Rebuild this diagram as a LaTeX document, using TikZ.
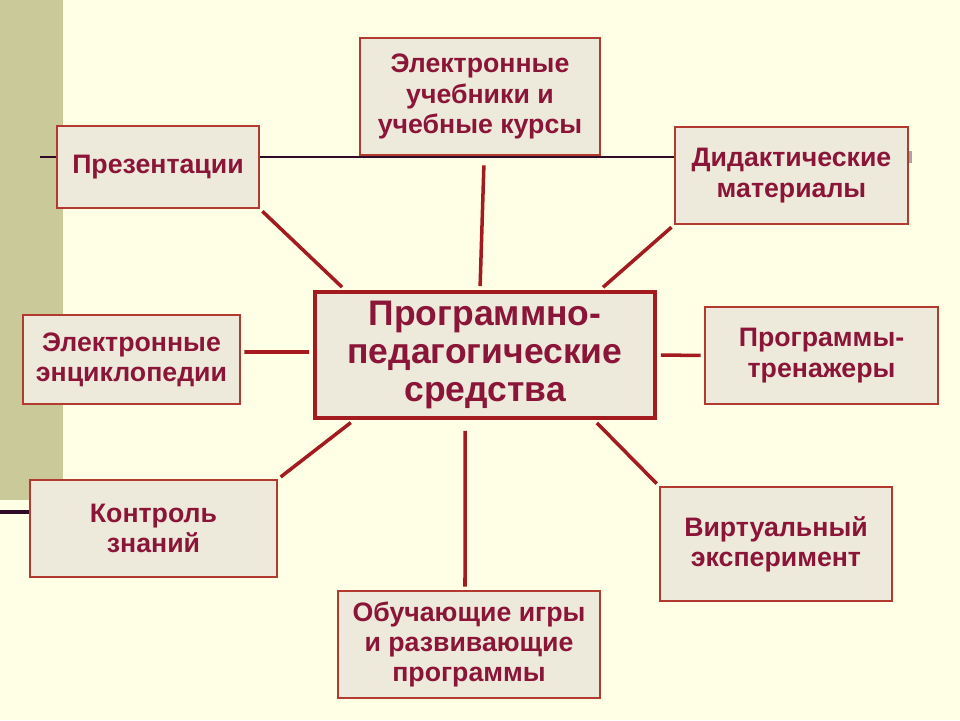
\documentclass[tikz,border=0pt]{standalone}
\usepackage{fontspec}
\setmainfont{Liberation Sans}
\usetikzlibrary{calc}
\definecolor{bgyellow}{HTML}{FFFFE6}
\definecolor{bandolive}{HTML}{C9C99A}
\definecolor{boxfill}{HTML}{EDEADC}
\definecolor{boxred}{HTML}{B23A2E}
\definecolor{txtred}{HTML}{8B1538}
\definecolor{linkred}{HTML}{A31B1E}
\definecolor{darkline}{HTML}{2E0A26}
\tikzset{
  box/.style={draw=boxred,fill=boxfill,line width=1pt,inner sep=0pt,align=center,
    text=txtred,font=\fontsize{15.2}{17.2}\selectfont\bfseries},
  mainbox/.style={box,line width=2.8pt,draw=linkred,font=\fontsize{20.2}{21.5}\selectfont\bfseries},
  link/.style={draw=linkred,line width=2pt,shorten <=2pt,shorten >=2pt}
}
\begin{document}
\begin{tikzpicture}[x=0.02cm,y=-0.02cm]
\useasboundingbox (0,0) rectangle (960,720);
\fill[bgyellow] (0,0) rectangle (960,720);
\fill[bandolive] (0,0) rectangle (63,500);
\draw[darkline,line width=1.2pt] (40,157)--(905,157);
\fill[gray!70] (905,151) rectangle (912,163);
\draw[darkline,line width=2.2pt] (0,512)--(30,512);

\node[mainbox,minimum width=6.8cm,minimum height=2.52cm] (c) at (485,355) {Программно-\\педагогические\\средства};
\node[box,minimum width=4.8cm,minimum height=2.34cm] (uch) at (480,96.5) {Электронные\\учебники и\\учебные курсы};
\node[box,minimum width=4.04cm,minimum height=1.64cm] (prez) at (158,167) {Презентации};
\node[box,minimum width=4.66cm,minimum height=1.94cm] (did) at (791.5,175.5) {Дидактические\\материалы};
\node[box,minimum width=4.34cm,minimum height=1.78cm] (enc) at (131.5,359.5) {Электронные\\энциклопедии};
\node[box,minimum width=4.66cm,minimum height=1.94cm] (tren) at (821.5,355.5) {Программы-\\тренажеры};
\node[box,minimum width=4.94cm,minimum height=1.94cm] (kontr) at (153.5,528.5) {Контроль\\знаний};
\node[box,minimum width=4.64cm,minimum height=2.28cm] (virt) at (776,544) {Виртуальный\\эксперимент};
\node[box,minimum width=5.24cm,minimum height=2.14cm] (igr) at (469,644.5) {Обучающие игры\\и развивающие\\программы};

\draw[link] ([xshift=0.08cm,yshift=-0.12cm]uch.south) -- ([xshift=-0.1cm]c.north);
\draw[link] (prez.south east) -- ([xshift=0.64cm]c.north west);
\draw[link] (did.south west) -- ([xshift=-1.14cm]c.north east);
\draw[link] ([yshift=0.15cm]enc.east) -- ([yshift=0.06cm]c.west);
\draw[link] (c.east) -- (tren.west);
\draw[link] (kontr.north east) -- ([xshift=0.82cm]c.south west);
\draw[link] (virt.north west) -- ([xshift=-1.26cm]c.south east);
\draw[link,shorten <=6pt] ([xshift=-0.4cm]c.south) -- ([xshift=-0.08cm]igr.north);
\end{tikzpicture}
\end{document}
